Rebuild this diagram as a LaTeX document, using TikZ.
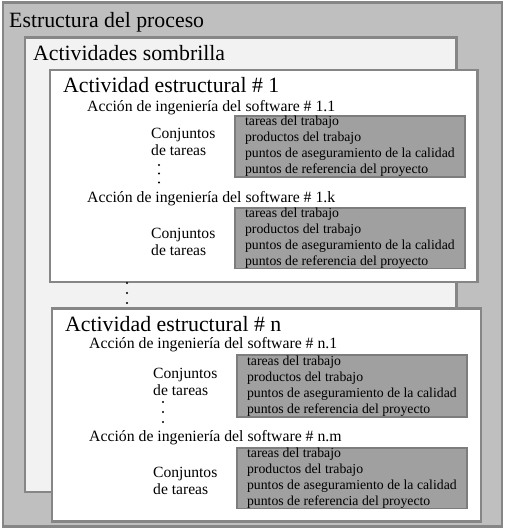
\documentclass[tikz,border=0pt]{standalone}
\usepackage{fontspec}
\setmainfont{Liberation Serif}
\usepackage{xcolor}
\usetikzlibrary{positioning}
\definecolor{cMarco}{RGB}{134,134,134}
\definecolor{cFondo}{RGB}{191,191,191}
\definecolor{cSombra}{RGB}{242,242,242}
\definecolor{cTareas}{RGB}{160,160,160}
\definecolor{cBorde}{RGB}{125,125,125}
\newcommand{\listaTareas}{tareas del trabajo\\productos del trabajo\\puntos de aseguramiento de la calidad\\puntos de referencia del proyecto}

\begin{document}
\begin{tikzpicture}[x=1pt,y=-1pt,
   caja/.style={draw=cMarco,line width=2.6pt,anchor=north west,inner sep=0pt},
   tareas/.style={draw=cBorde,fill=cTareas,line width=1.8pt,anchor=north west,minimum width=230pt,align=left,inner sep=0pt,font=\fontsize{13.75}{16}\selectfont},
   titulo/.style={anchor=base west,inner sep=0pt,font=\fontsize{21.8}{25}\selectfont},
   accion/.style={anchor=base west,inner sep=0pt,font=\fontsize{15.75}{18}\selectfont},
   conj/.style={anchor=base west,inner sep=0pt,align=left,font=\fontsize{15.6}{17}\selectfont}]
  \useasboundingbox (0,0) rectangle (504,529);
  \node[caja,fill=cFondo,minimum width=499pt,minimum height=523.5pt] (proceso) at (1.5,1.5) {};
  \node[caja,fill=cSombra,minimum width=431.5pt,minimum height=454.3pt] (sombrilla) at (23.8,36.2) {};
  \node[caja,fill=white,minimum width=427.6pt,minimum height=212pt] (act1) at (48.7,68.7) {};
  \node[caja,fill=white,minimum width=428.8pt,minimum height=213pt] (actn) at (50.7,307) {};
  \node[titulo] (tProceso) at (9,27.3) {Estructura del proceso};
  \node[titulo] (tSombrilla) at (33,60.7) {Actividades sombrilla};
  \node[titulo] (tAct1) at (63,92.7) {Actividad estructural \# 1};
  \node[titulo] (tActn) at (65,331) {Actividad estructural \# n};
  \node[accion] (acc11) at (87,111.7) {Acción de ingeniería del software \# 1.1};
  \node[accion] (acc1k) at (87,203) {Acción de ingeniería del software \# 1.k};
  \node[accion] (accn1) at (89,348.5) {Acción de ingeniería del software \# n.1};
  \node[accion] (accnm) at (89,441.5) {Acción de ingeniería del software \# n.m};
  \foreach \n/\x/\y/\h in {11/234/115/61, 1k/234/207/60, n1/236/354/62, nm/236/447/59}
    \node[tareas,minimum height=\h pt] (tar\n) at (\x,\y) {\listaTareas};
  \foreach \n/\x/\y in {11/151/156, 1k/151/255, n1/153/395, nm/153/494}
    \node[conj] (conj\n) at (\x,\y) {Conjuntos\\de tareas};
  \foreach \x/\y in {159/165, 159/173.5, 159/182.5, 127/283, 127/293, 127/303, 163/402, 163/412, 163/422}
    \fill (\x,\y) circle (1.1);
\end{tikzpicture}
\end{document}
